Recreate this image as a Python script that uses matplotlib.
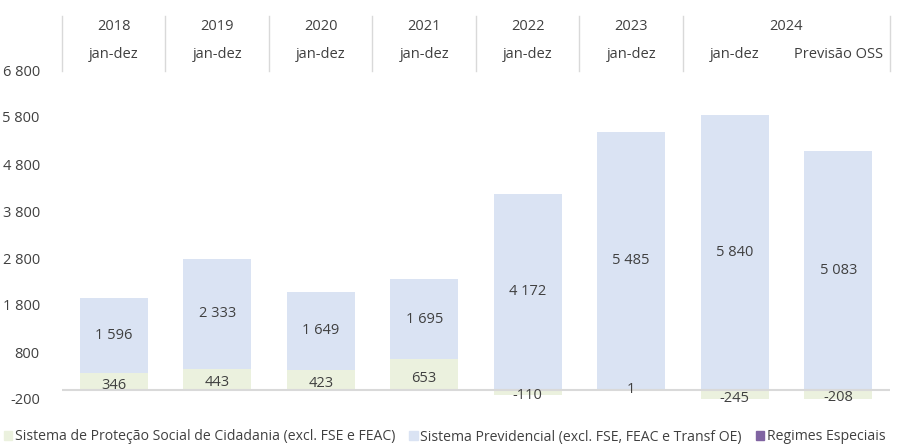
import matplotlib
matplotlib.use("Agg")
import matplotlib.pyplot as plt
import matplotlib.transforms as mtransforms
from matplotlib.patches import Patch
import numpy as np

plt.rcParams['font.family'] = ['Open Sans', 'DejaVu Sans']

years = ["2018", "2019", "2020", "2021", "2022", "2023", "2024"]
periods = ["jan-dez", "jan-dez", "jan-dez", "jan-dez", "jan-dez", "jan-dez", "jan-dez", "Previsão OSS"]
cidadania = [346, 443, 423, 653, -110, 1, -245, -208]
previdencial = [1596, 2333, 1649, 1695, 4172, 5485, 5840, 5083]
regimes = [0, 0, 0, 0, 0, 0, 0, 0]
yticks = [-200, 800, 1800, 2800, 3800, 4800, 5800, 6800]

c_green = "#EBF1DE"
c_blue = "#DAE3F3"
c_purple = "#8064A2"
tcol = "#404040"
fs = 10.5

fig = plt.figure(figsize=(9.04, 4.46), dpi=100)
ax = fig.add_axes([62/904, 1-399/446, 828/904, 329/446])

x = np.arange(len(periods))
w = 0.66
cid = np.array(cidadania, float)
prev = np.array(previdencial, float)
reg = np.array(regimes, float)
base_prev = np.maximum(cid, 0)
ax.bar(x, cid, w, color=c_green, zorder=2)
ax.bar(x, prev, w, bottom=base_prev, color=c_blue, zorder=2)
ax.bar(x, reg, w, bottom=base_prev + prev, color=c_purple, zorder=2)

ax.axhline(0, color="#D9D9D9", lw=1.5, zorder=3)

for i in range(len(x)):
    c = cid[i]
    if c >= 0:
        yc = c / 2 - 80
        if c < 50:
            yc = 10
    else:
        yc = c / 2 - 70
    ax.text(x[i], yc, f"{int(c):,}".replace(",", " "), ha="center", va="center",
            fontsize=fs, color=tcol, zorder=4)
    ax.text(x[i], base_prev[i] + prev[i] / 2, f"{int(prev[i]):,}".replace(",", " "),
            ha="center", va="center", fontsize=fs, color=tcol, zorder=4)

ax.set_xlim(-0.5, len(x) - 0.5)
ax.set_ylim(-200, 6800)
ax.set_yticks(yticks)
ax.set_yticklabels([f"{v:,}".replace(",", " ") for v in yticks], fontsize=fs, color=tcol)
ax.tick_params(axis="y", length=0, pad=16)
ax.set_xticks([])
for s in ax.spines.values():
    s.set_visible(False)

trans = mtransforms.blended_transform_factory(ax.transData, fig.transFigure)
for xv in [-0.5, 0.5, 1.5, 2.5, 3.5, 4.5, 5.5, 7.5]:
    ax.plot([xv, xv], [1-16/446, 1-71/446], color="#D9D9D9", lw=1, transform=trans, clip_on=False)
for i, yr in enumerate(years):
    xc = i if i < 6 else 6.5
    ax.text(xc, 1-26/446, yr, ha="center", va="center", fontsize=fs, color=tcol, transform=trans)
for i, p in enumerate(periods):
    ax.text(i, 1-54/446, p, ha="center", va="center", fontsize=fs, color=tcol, transform=trans)

handles = [Patch(color=c_green, label="Sistema de Proteção Social de Cidadania (excl. FSE e FEAC)"),
           Patch(color=c_blue, label="Sistema Previdencial (excl. FSE, FEAC e Transf OE)"),
           Patch(color=c_purple, label="Regimes Especiais")]
fig.legend(handles=handles, loc="center left", bbox_to_anchor=(0.004, 1-437/446), ncol=3,
           frameon=False, fontsize=10.1, handlelength=0.6, handleheight=0.6,
           handletextpad=0.2, columnspacing=1.0, borderaxespad=0, borderpad=0,
           labelcolor=tcol)

fig.savefig("out.png", dpi=100)
